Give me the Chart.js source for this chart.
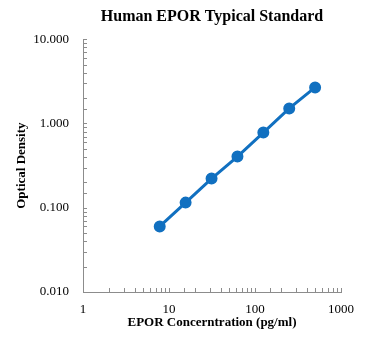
<!DOCTYPE html>
<html>
<head>
<meta charset="utf-8">
<script src="https://cdn.jsdelivr.net/npm/chart.js@4/dist/chart.umd.min.js"></script>
<style>
  html, body { margin: 0; padding: 0; background: #fff; }
  #wrap { width: 370px; height: 350px; }
</style>
</head>
<body>
<div id="wrap"><canvas id="myChart" width="370" height="350"></canvas></div>
<script>
const concentrations = [7.8, 15.6, 31.25, 62.5, 125, 250, 500];
const odValues = [0.06, 0.115, 0.222, 0.405, 0.78, 1.51, 2.68];
const xTickLabels = ["1", "10", "100", "1000"];
const yTickLabels = ["0.010", "0.100", "1.000", "10.000"];

const serif = "'Liberation Serif', 'Times New Roman', serif";
const axisGray = "#8c8c8c";
const blue = "#1170c0";

const isDecade = (v) => Math.abs(Math.log10(v) - Math.round(Math.log10(v))) < 1e-9;

const decadeIndex = (v, min) => Math.round(Math.log10(v) - Math.log10(min));

// draws the small inward tick marks on both axes
const innerTicks = {
  id: "innerTicks",
  afterDraw(chart) {
    const ctx = chart.ctx;
    const xs = chart.scales.x;
    const ys = chart.scales.y;
    ctx.save();
    ctx.strokeStyle = axisGray;
    ctx.lineWidth = 1;
    ctx.beginPath();
    xs.ticks.forEach((t) => {
      const px = Math.round(xs.getPixelForValue(t.value)) + 0.5;
      ctx.moveTo(px, ys.bottom);
      ctx.lineTo(px, ys.bottom - 4);
    });
    ys.ticks.forEach((t) => {
      const py = Math.round(ys.getPixelForValue(t.value)) + 0.5;
      ctx.moveTo(xs.left, py);
      ctx.lineTo(xs.left + 4, py);
    });
    ctx.stroke();
    ctx.restore();
  },
};

const ctx = document.getElementById("myChart").getContext("2d");
const myChart = new Chart(ctx, {
  type: "scatter",
  data: {
    datasets: [
      {
        data: concentrations.map((c, i) => ({ x: c, y: odValues[i] })),
        showLine: true,
        borderColor: blue,
        backgroundColor: blue,
        borderWidth: 3,
        pointRadius: 4.5,
        pointHoverRadius: 4.5,
      },
    ],
  },
  options: {
    responsive: false,
    animation: false,
    layout: { padding: { left: 14, right: 29, top: 5, bottom: 20 } },
    plugins: {
      legend: { display: false },
      tooltip: { enabled: false },
      title: {
        display: true,
        text: "Human EPOR Typical Standard",
        fullSize: false,
        color: "#000",
        font: { family: serif, size: 16, weight: "bold" },
        padding: { top: 2, bottom: 13 },
      },
    },
    scales: {
      x: {
        type: "logarithmic",
        min: 1,
        max: 1000,
        afterFit: (s) => { s.height = 38; },
        grid: { display: false, drawTicks: false },
        border: { display: true, color: axisGray, width: 1 },
        ticks: {
          autoSkip: false,
          maxRotation: 0,
          padding: 10,
          color: "#000",
          font: { family: serif, size: 13 },
          callback: (v) => (isDecade(v) ? xTickLabels[decadeIndex(v, 1)] : ""),
        },
        title: {
          display: true,
          text: "EPOR Concerntration (pg/ml)",
          color: "#000",
          font: { family: serif, size: 13, weight: "bold" },
          padding: { top: 2, bottom: 0 },
        },
      },
      y: {
        type: "logarithmic",
        min: 0.01,
        max: 10,
        afterFit: (s) => { s.width = 69; },
        grid: { display: false, drawTicks: false },
        border: { display: true, color: axisGray, width: 1 },
        ticks: {
          autoSkip: false,
          padding: 14,
          color: "#000",
          font: { family: serif, size: 13 },
          callback: (v) => (isDecade(v) ? yTickLabels[decadeIndex(v, 0.01)] : ""),
        },
        title: {
          display: true,
          text: "Optical Density",
          color: "#000",
          font: { family: serif, size: 13, weight: "bold" },
          padding: { top: 0, bottom: 2 },
        },
      },
    },
  },
  plugins: [innerTicks],
});
</script>
</body>
</html>
